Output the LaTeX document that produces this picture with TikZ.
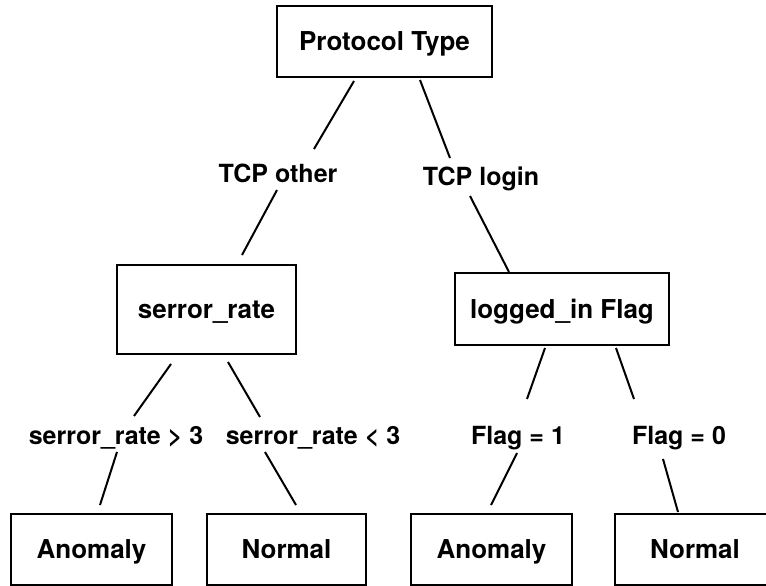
\documentclass[tikz,border=0pt]{standalone}
\usepackage{fontspec}
\setmainfont{TeX Gyre Heros}
\usetikzlibrary{calc}
\tikzset{
  box/.style={draw, line width=2pt, inner sep=0pt, text height=18.7pt, text depth=0pt, font=\fontsize{26}{30}\selectfont\bfseries},
  lbl/.style={inner sep=0pt, text height=18pt, text depth=0pt, font=\fontsize{25}{29}\selectfont\bfseries},
  conn/.style={line width=2pt}
}
\begin{document}
\begin{tikzpicture}[x=1pt,y=-1pt]
\useasboundingbox (0,0) rectangle (766,586);
% boxes
\node[box, minimum width=215pt, minimum height=71pt] (root) at (384.5,41.5) {Protocol Type};
\node[box, minimum width=179pt, minimum height=89pt] (serror) at (206.5,309.5) {serror\_rate};
\node[box, minimum width=214pt, minimum height=72pt] (logged) at (562,309) {logged\_in Flag};
\node[box, minimum width=161pt, minimum height=71pt] (anom1) at (91.5,549.5) {Anomaly};
\node[box, minimum width=159pt, minimum height=71pt] (norm1) at (286.5,549.5) {Normal};
\node[box, minimum width=161pt, minimum height=71pt] (anom2) at (491.5,549.5) {Anomaly};
\node[box, minimum width=160pt, minimum height=71pt] (norm2) at (695,549.5) {Normal};
% labels
\node[lbl] (tcpother) at (278,173) {TCP other};
\node[lbl] (tcplogin) at (481,176) {TCP login};
\node[lbl] (srgt) at (116,435.5) {serror\_rate > 3};
\node[lbl] (srlt) at (313,435.5) {serror\_rate < 3};
\node[lbl] (flagone) at (518,435.5) {Flag = 1};
\node[lbl] (flagzero) at (679,435.5) {Flag = 0};
% connectors
\draw[conn] ($(root.south)+(-30.5,3)$) -- ($(tcpother)+(36,-24)$);
\draw[conn] ($(tcpother)+(-1,17)$) -- ($(serror.north)+(35.5,-9)$);
\draw[conn] ($(root.south)+(35.5,2)$) -- ($(tcplogin)+(-31,-18)$);
\draw[conn] ($(tcplogin)+(-11,20)$) -- ($(logged.north)+(-53,0)$);
\draw[conn] ($(serror.south)+(-35.5,9)$) -- ($(srgt)+(18,-19.5)$);
\draw[conn] ($(srgt)+(1,16.5)$) -- ($(anom1.north)+(8.5,-8)$);
\draw[conn] ($(serror.south)+(21.5,7)$) -- ($(srlt)+(-53,-18.5)$);
\draw[conn] ($(srlt)+(-48,16.5)$) -- ($(norm1.north)+(9.5,-8)$);
\draw[conn] ($(logged.south)+(-17,2)$) -- ($(flagone)+(9,-36.5)$);
\draw[conn] ($(flagone)+(-1,17.5)$) -- ($(anom2.north)+(-0.5,-8)$);
\draw[conn] ($(logged.south)+(54,2)$) -- ($(flagzero)+(-45,-36.5)$);
\draw[conn] ($(flagzero)+(-16,23.5)$) -- ($(norm2.north)+(-17,-1)$);
\end{tikzpicture}
\end{document}
